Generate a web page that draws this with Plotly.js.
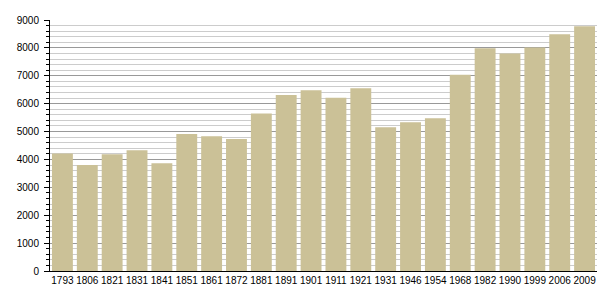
<!DOCTYPE html>
<html>
<head>
<meta charset="utf-8">
<script src="https://cdn.plot.ly/plotly-3.0.1.min.js"></script>
<style>html,body{margin:0;padding:0;background:#fff;}#chart{width:605px;height:300px;}</style>
</head>
<body>
<div id="chart"></div>
<script>
const years = ["1793","1806","1821","1831","1841","1851","1861","1872","1881","1891","1901","1911","1921","1931","1946","1954","1968","1982","1990","1999","2006","2009"];
const population = [4210,3800,4190,4330,3860,4910,4830,4730,5650,6310,6480,6215,6550,5155,5335,5480,7035,7990,7795,8010,8490,8780];
const yTicks = [0,1000,2000,3000,4000,5000,6000,7000,8000,9000];

Plotly.newPlot('chart', [{
  type: 'bar',
  x: years,
  y: population,
  marker: {color: '#cbc197', line: {width: 0}},
  hoverinfo: 'x+y'
}], {
  width: 605, height: 300,
  margin: {l: 50, r: 8, t: 20, b: 29, pad: 0},
  paper_bgcolor: '#fff', plot_bgcolor: '#fff',
  bargap: 0.16,
  showlegend: false,
  font: {family: 'Liberation Sans, Arial, sans-serif', size: 10, color: '#000'},
  xaxis: {
    type: 'category',
    showline: true, linecolor: '#000', linewidth: 1,
    ticks: '', showgrid: false, zeroline: false,
    tickangle: 0, automargin: false,
    tickfont: {size: 10}
  },
  yaxis: {
    range: [0, 9000],
    tickvals: yTicks,
    ticktext: yTicks.map(String),
    showline: true, linecolor: '#000', linewidth: 1,
    ticks: 'outside', ticklen: 5, tickcolor: '#000',
    ticklabelstandoff: 3,
    showgrid: true, gridcolor: '#999', gridwidth: 1,
    zeroline: false, automargin: false,
    minor: {dtick: 200, ticks: 'outside', ticklen: 3, tickcolor: '#000', showgrid: true, gridcolor: '#ccc', gridwidth: 1},
    tickfont: {size: 10}
  }
}, {staticPlot: true});
</script>
</body>
</html>
